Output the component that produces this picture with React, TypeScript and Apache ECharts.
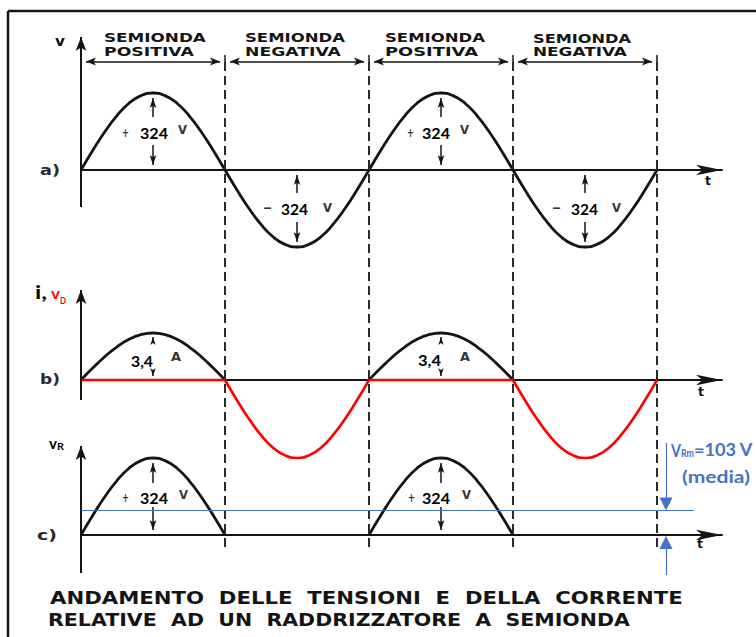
import React, { useEffect, useRef } from "react";
import * as echarts from "echarts";

// ---------------- data ----------------
const STEP_DEG = 15; // sample spacing along t, in degrees of phase
const vHalfWave = [0, 84, 162, 229, 281, 313, 324, 313, 281, 229, 162, 84, 0]; // volts
const iHalfWave = [0, 0.88, 1.7, 2.4, 2.94, 3.28, 3.4, 3.28, 2.94, 2.4, 1.7, 0.88, 0]; // amperes
const halfBounds = [0, 180, 360, 540, 720];
const halfSigns = [1, -1, 1, -1];
const headerTop = ["SEMIONDA", "SEMIONDA", "SEMIONDA", "SEMIONDA"];
const headerBottom = ["POSITIVA", "NEGATIVA", "POSITIVA", "NEGATIVA"];
const V_PEAK = 324;
const I_PEAK = 3.4;
const I_PEAK_LABEL = "3,4";
const V_MEAN = 103;
const titleLines = [
  "ANDAMENTO  DELLE  TENSIONI  E  DELLA  CORRENTE",
  "RELATIVE  AD  UN  RADDRIZZATORE  A  SEMIONDA",
];

// ---------------- build series data ----------------
const hump = (start: number, shape: number[], sign: number) =>
  shape.map((v, k) => [start + k * STEP_DEG, sign * v]);

const vA: number[][] = [];
halfBounds.slice(0, 4).forEach((s, h) => {
  const seg = hump(s, vHalfWave, halfSigns[h]);
  vA.push(...(h === 0 ? seg : seg.slice(1)));
});

// ---------------- layout ----------------
const X_L = 81;
const X_R = 722;
const PX_PER_DEG = 0.8;
const XMAX = (X_R - X_L) / PX_PER_DEG;
const degAt = (px: number) => (px - X_L) / PX_PER_DEG;

type G = {
  top: number;
  bottom: number;
  zero: number;
  k: number;
  axTop: number;
  axBottom: number;
};
const GA: G = { top: 20, bottom: 262, zero: 170, k: 77 / V_PEAK, axTop: 37, axBottom: 207 };
const GB: G = { top: 280, bottom: 470, zero: 380, k: 47 / I_PEAK, axTop: 290, axBottom: 400 };
const GBV: G = { ...GB, k: 78 / V_PEAK };
const GC: G = { top: 430, bottom: 592, zero: 535, k: 77 / V_PEAK, axTop: 446, axBottom: 573 };
const GD = { top: 57, bottom: 547 };
const valAt = (g: G, py: number) => (g.zero - py) / g.k;
const pxOf = (g: G, v: number) => g.zero - v * g.k;

const INK = "#141414";
const BLUE = "#4472C4";
const RED = "#ff0000";
const SCAN = '"DejaVu Sans", sans-serif';
const OVER = 'Lato, "Open Sans", sans-serif';

function buildOption() {
  const ctx = document.createElement("canvas").getContext("2d")!;
  const fit = (
    text: string,
    left: number,
    right: number,
    cy: number,
    size: number,
    weight: string,
    family: string,
    color: string
  ) => {
    const font = `${weight} ${size}px ${family}`;
    ctx.font = font;
    const w = ctx.measureText(text).width || 1;
    return {
      type: "text",
      x: left,
      y: cy,
      scaleX: (right - left) / w,
      z: 100,
      silent: true,
      style: {
        text,
        font,
        fill: color,
        textAlign: "left",
        verticalAlign: "middle",
        textVerticalAlign: "middle",
      },
    };
  };

  const axisLineStyle = { color: INK, width: 2 };
  const xAx = (gi: number, show: boolean) => ({
    type: "value",
    gridIndex: gi,
    min: 0,
    max: XMAX,
    show,
    axisLine: {
      show: true,
      onZero: true,
      lineStyle: axisLineStyle,
      symbol: ["none", "arrow"],
      symbolSize: [8, 26],
    },
    axisTick: { show: false },
    axisLabel: { show: false },
    splitLine: { show: false },
  });
  const yAx = (gi: number, g: G) => ({
    type: "value",
    gridIndex: gi,
    min: valAt(g, g.bottom),
    max: valAt(g, g.top),
    show: false,
    axisLine: { show: false },
    axisTick: { show: false },
    axisLabel: { show: false },
    splitLine: { show: false },
  });
  const grid = (top: number, bottom: number) => ({
    left: X_L,
    width: X_R - X_L,
    top,
    height: bottom - top,
    containLabel: false,
  });

  const seg = (
    x: number,
    y1: number,
    y2: number,
    s1: string,
    s2: string,
    size: number[],
    lineStyle?: any
  ) => [
    { coord: [x, y1], symbol: s1, symbolSize: size, ...(lineStyle ? { lineStyle } : {}) },
    { coord: [x, y2], symbol: s2, symbolSize: size },
  ];
  // vertical axis with arrow (tip 7px above axTop + 7)
  const yAxisMark = (g: G) =>
    seg(0, valAt(g, g.axBottom), valAt(g, g.axTop), "none", "arrow", [8, 14], {
      color: INK,
      width: 2,
      type: "solid",
    });

  // ---- panel a annotations ----
  const dimV = valAt(GA, 61.5);
  const dDeg = 5 / PX_PER_DEG;
  const aMarks: any[] = [yAxisMark(GA)];
  halfBounds.slice(0, 4).forEach((s, h) => {
    const e = halfBounds[h + 1];
    aMarks.push([
      { coord: [s + dDeg, dimV], symbol: "arrow", symbolSize: [6, 10] },
      { coord: [e - dDeg, dimV], symbol: "arrow", symbolSize: [6, 10] },
    ]);
    const mid = s + 90;
    if (halfSigns[h] > 0) {
      aMarks.push(seg(mid, valAt(GA, pxOf(GA, V_PEAK) + 5), valAt(GA, 117), "arrow", "none", [5, 10]));
      aMarks.push(seg(mid, valAt(GA, 145), valAt(GA, GA.zero - 5), "none", "arrow", [5, 10]));
    } else {
      aMarks.push(seg(mid, valAt(GA, 193), valAt(GA, GA.zero + 5), "none", "arrow", [5, 10]));
      aMarks.push(seg(mid, valAt(GA, 222), valAt(GA, pxOf(GA, -V_PEAK) - 5), "none", "arrow", [5, 10]));
    }
  });
  halfBounds.slice(1).forEach((b) => {
    aMarks.push(seg(b, valAt(GA, 55), valAt(GA, 68), "none", "none", [1, 1]));
  });

  // ---- panel b / c annotations ----
  const bMarks: any[] = [yAxisMark(GB)];
  const cMarks: any[] = [yAxisMark(GC)];
  halfBounds.slice(0, 4).forEach((s, h) => {
    if (halfSigns[h] < 0) return;
    const mid = s + 90;
    bMarks.push(seg(mid, valAt(GB, pxOf(GB, I_PEAK) + 4), valAt(GB, 343), "arrow", "none", [4, 8]));
    bMarks.push(seg(mid, valAt(GB, 372), valAt(GB, GB.zero - 4), "none", "arrow", [4, 8]));
    cMarks.push(seg(mid, valAt(GC, pxOf(GC, V_PEAK) + 5), valAt(GC, 483), "arrow", "none", [5, 10]));
    cMarks.push(seg(mid, valAt(GC, 507), valAt(GC, GC.zero - 5), "none", "arrow", [5, 10]));
  });

  const blueX = degAt(666);
  const blueMarks = [
    seg(blueX, valAt(GC, 443), valAt(GC, pxOf(GC, V_MEAN) - 6.5), "none", "triangle", [13, 13]),
    seg(blueX, valAt(GC, 575), valAt(GC, GC.zero + 1 + 6.5), "none", "triangle", [13, 13]),
  ];

  const lineBase = {
    type: "line",
    showSymbol: false,
    symbol: "none",
    smooth: 0.5,
    clip: false,
    silent: true,
    animation: false,
  };
  const blackLine = (data: number[][], xi: number, yi: number, extra: any = {}) => ({
    ...lineBase,
    data,
    xAxisIndex: xi,
    yAxisIndex: yi,
    color: INK,
    itemStyle: { color: INK },
    lineStyle: { color: INK, width: 2.8 },
    ...extra,
  });
  const markBlack = (data: any[]) => ({
    silent: true,
    animation: false,
    symbol: ["none", "none"],
    label: { show: false },
    lineStyle: { color: INK, width: 1.5, type: "solid" },
    itemStyle: { color: INK },
    data,
  });

  const series: any[] = [];
  series.push(blackLine(vA, 0, 0, { markLine: markBlack(aMarks) }));

  let bFirst = true;
  let cFirst = true;
  halfBounds.slice(0, 4).forEach((s, h) => {
    const e = halfBounds[h + 1];
    if (halfSigns[h] > 0) {
      series.push(
        blackLine(hump(s, iHalfWave, 1), 1, 1, bFirst ? { markLine: markBlack(bMarks) } : {})
      );
      bFirst = false;
      series.push({
        ...lineBase,
        data: [
          [s, 0],
          [e, 0],
        ],
        xAxisIndex: 1,
        yAxisIndex: 2,
        color: RED,
        lineStyle: { color: RED, width: 2.6 },
        z: 4,
      });
      series.push(
        blackLine(hump(s, vHalfWave, 1), 2, 3, cFirst ? { markLine: markBlack(cMarks) } : {})
      );
      cFirst = false;
    } else {
      series.push({
        ...lineBase,
        data: hump(s, vHalfWave, -1),
        xAxisIndex: 1,
        yAxisIndex: 2,
        color: RED,
        lineStyle: { color: RED, width: 2.6 },
        z: 4,
      });
    }
  });

  // mean value line (blue)
  series.push({
    ...lineBase,
    smooth: false,
    data: [
      [0, V_MEAN],
      [degAt(694), V_MEAN],
    ],
    xAxisIndex: 2,
    yAxisIndex: 3,
    color: BLUE,
    itemStyle: { color: BLUE },
    lineStyle: { color: BLUE, width: 1.2 },
    z: 5,
    markLine: {
      silent: true,
      animation: false,
      symbol: ["none", "none"],
      label: { show: false },
      lineStyle: { color: BLUE, width: 1.2, type: "solid" },
      itemStyle: { color: BLUE },
      data: blueMarks,
    },
  });

  // dashed half-period boundaries
  series.push({
    ...lineBase,
    data: [],
    xAxisIndex: 3,
    yAxisIndex: 4,
    markLine: {
      silent: true,
      animation: false,
      symbol: ["none", "none"],
      label: { show: false },
      lineStyle: { color: "#2a2a2a", width: 2, type: [9, 5] },
      data: halfBounds.slice(1).map((b) => ({ xAxis: b })),
    },
  });

  // ---------------- texts ----------------
  const T: any[] = [];
  const headerLeft = [104, 245, 385, 533];
  const headerTopRight = [206, 345, 485, 631];
  const headerBotRight = [194, 341, 478, 627];
  for (let h = 0; h < 4; h++) {
    T.push(fit(headerTop[h], headerLeft[h], headerTopRight[h], 38, 13, "bold", SCAN, INK));
    T.push(fit(headerBottom[h], headerLeft[h], headerBotRight[h], 52, 13, "bold", SCAN, INK));
  }
  T.push(fit(titleLines[0], 50, 683, 598, 17, "bold", SCAN, INK));
  T.push(fit(titleLines[1], 48, 630, 620, 17, "bold", SCAN, INK));

  T.push(fit("v", 55, 65, 41, 14, "bold", SCAN, INK));
  T.push(fit("a)", 40, 60, 170, 14, "bold", SCAN, "#2a2a2a"));
  T.push(fit("b)", 40, 60, 380, 14, "bold", SCAN, "#2a2a2a"));
  T.push(fit("c)", 37, 57, 535, 14, "bold", SCAN, "#2a2a2a"));
  T.push(fit("t", 705, 711, 181, 12, "bold", SCAN, INK));
  T.push(fit("t", 698, 704, 392, 12, "bold", SCAN, INK));
  T.push(fit("t", 697, 703, 544, 12, "bold", SCAN, INK));

  // +324 V labels
  const peakStr = String(V_PEAK);
  const posLabel = (plusL: number, numL: number, vL: number, cy: number) => {
    T.push(fit("+", plusL, plusL + 7, cy, 12, "bold", SCAN, "#333"));
    T.push(fit(peakStr, numL, numL + 28, cy + 1, 15, "bold", OVER, "#000"));
    T.push(fit("V", vL, vL + 9, cy - 2, 12, "bold", SCAN, "#333"));
  };
  posLabel(122, 140, 178, 132);
  posLabel(407, 422, 460, 132);
  posLabel(122, 140, 179, 497);
  posLabel(408, 422, 462, 497);
  const negLabel = (dashL: number, numL: number, vL: number, cy: number) => {
    T.push(fit("–", dashL, dashL + 9, cy, 12, "bold", SCAN, "#333"));
    T.push(fit(peakStr, numL, numL + 27, cy + 1, 15, "bold", OVER, "#000"));
    T.push(fit("V", vL, vL + 9, cy, 12, "bold", SCAN, "#333"));
  };
  negLabel(263, 281, 323, 208);
  negLabel(552, 571, 612, 208);
  // 3,4 A
  T.push(fit(I_PEAK_LABEL, 131, 153, 361, 15, "bold", OVER, "#000"));
  T.push(fit("A", 171, 181, 357, 12, "bold", SCAN, "#333"));
  T.push(fit(I_PEAK_LABEL, 418, 441, 360, 15, "bold", OVER, "#000"));
  T.push(fit("A", 460, 470, 357, 12, "bold", SCAN, "#333"));

  // axis names
  T.push(fit("i,", 35, 47, 292, 18, "bold", OVER, "#000"));
  T.push(fit("v", 51, 60, 293, 16, "bold", OVER, RED));
  T.push(fit("D", 60, 66, 301, 9, "bold", OVER, RED));
  T.push(fit("v", 49, 57, 443, 15, "bold", OVER, "#000"));
  T.push(fit("R", 57, 64, 446, 9, "bold", OVER, "#000"));

  // mean value label
  T.push(fit("V", 671, 681, 450, 17, "bold", OVER, BLUE));
  T.push(fit("Rm", 681, 694, 453, 11, "bold", OVER, BLUE));
  T.push(fit(`=${V_MEAN} V`, 694, 753, 450, 17, "bold", OVER, BLUE));
  T.push(fit("(media)", 682, 750, 476, 17, "bold", OVER, BLUE));

  const frame = [
    {
      type: "line",
      shape: { x1: 8, y1: 11, x2: 756, y2: 11 },
      style: { stroke: INK, lineWidth: 2.5 },
      silent: true,
    },
    {
      type: "line",
      shape: { x1: 8, y1: 11, x2: 8, y2: 637 },
      style: { stroke: INK, lineWidth: 2.5 },
      silent: true,
    },
  ];

  return {
    animation: false,
    backgroundColor: "#ffffff",
    grid: [
      grid(GA.top, GA.bottom),
      grid(GB.top, GB.bottom),
      grid(GC.top, GC.bottom),
      grid(GD.top, GD.bottom),
    ],
    xAxis: [xAx(0, true), xAx(1, true), xAx(2, true), { ...xAx(3, false), show: false }],
    yAxis: [
      yAx(0, GA),
      yAx(1, GB),
      yAx(1, GBV),
      yAx(2, GC),
      {
        type: "value",
        gridIndex: 3,
        min: 0,
        max: 1,
        show: false,
        splitLine: { show: false },
      },
    ],
    series,
    graphic: [...frame, ...T],
  };
}

export default function App() {
  const ref = useRef<HTMLDivElement>(null);
  useEffect(() => {
    if (!ref.current) return;
    const chart = echarts.init(ref.current, null, { renderer: "svg" });
    chart.setOption(buildOption() as any);
    return () => chart.dispose();
  }, []);
  return (
    <div
      ref={ref}
      style={{
        position: "fixed",
        left: 0,
        top: 0,
        width: 756,
        height: 637,
        background: "#ffffff",
      }}
    />
  );
}
